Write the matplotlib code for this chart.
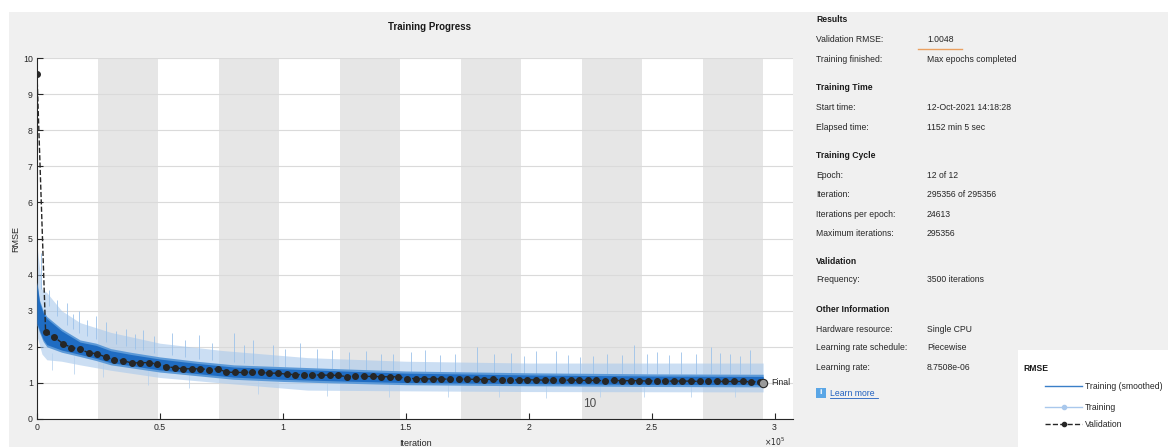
import numpy as np
import matplotlib.pyplot as plt
from matplotlib.patches import Rectangle
from matplotlib.lines import Line2D

plt.rcParams['font.family'] = ['Liberation Sans', 'DejaVu Sans']

W, H = 1168, 447

# training setup
epoch_len = 24613
n_epochs = 12
val_freq = 3500
max_iter = 295356
final_rmse = 1.0048

# validation RMSE every val_freq iterations
val_rmse = [9.55,
            2.41, 2.27, 2.09, 1.98, 1.94, 1.83, 1.81, 1.71, 1.64, 1.62,
            1.55, 1.56, 1.56, 1.52, 1.45, 1.42, 1.39, 1.39, 1.39, 1.37,
            1.39, 1.30, 1.29, 1.29, 1.30, 1.29, 1.27, 1.27, 1.24, 1.23,
            1.23, 1.22, 1.22, 1.21, 1.21, 1.17, 1.19, 1.18, 1.18, 1.17,
            1.17, 1.17,
            1.12, 1.12, 1.11, 1.11, 1.11, 1.10, 1.11, 1.10, 1.10, 1.09,
            1.10, 1.09, 1.09, 1.08, 1.09, 1.08, 1.08, 1.08, 1.07, 1.08,
            1.07, 1.07, 1.07, 1.06, 1.07, 1.06, 1.06, 1.06, 1.05, 1.06,
            1.05, 1.05, 1.05, 1.05, 1.04, 1.05, 1.04, 1.04, 1.04, 1.04,
            1.03, 1.03]

# smoothed training RMSE band (low / high)
smooth_iter = [0, 1000, 2500, 4000, 10000, 17500, 24000, 30000, 38000, 50000,
               65000, 80000, 100000, 120000, 150000, 200000, 250000, 295356]
smooth_lo = [2.6, 2.4, 2.15, 2.0, 1.85, 1.73, 1.62, 1.5, 1.42, 1.3,
             1.2, 1.1, 1.04, 1.0, 0.95, 0.92, 0.9, 0.89]
smooth_hi = [3.8, 3.3, 3.0, 2.84, 2.5, 2.19, 2.1, 1.95, 1.85, 1.72,
             1.6, 1.5, 1.45, 1.4, 1.33, 1.28, 1.25, 1.24]

# raw training RMSE band
raw_iter = [0, 2000, 4000, 10000, 17500, 30000, 50000, 75000, 110000,
            150000, 200000, 295356]
raw_lo = [2.3, 1.8, 1.64, 1.6, 1.5, 1.35, 1.15, 1.0, 0.8, 0.78, 0.76, 0.75]
raw_hi = [4.8, 3.6, 3.5, 3.0, 2.67, 2.4, 2.1, 1.9, 1.7, 1.6, 1.55, 1.55]

# tallest raw training spikes
spike_iter = [1500, 5000, 8000, 12000, 14500, 17000, 20500, 24000, 28000, 32000,
              36000, 40000, 43000, 47500, 55000, 60000, 66000, 71000, 80000,
              84000, 88000, 96000, 101000, 107000, 114000, 120000, 127000,
              134000, 140000, 145000, 152000, 158000, 164000, 170000, 179000,
              186000, 193000, 198000, 203000, 211000, 216000, 221000, 226000,
              232000, 238000, 243000, 248000, 252000, 257000, 262000, 268000,
              274000, 278000, 282000, 286000, 290000]
spike_top = [4.6, 3.58, 3.3, 3.2, 2.9, 3.0, 2.75, 2.84, 2.7, 2.45,
             2.5, 2.35, 2.47, 2.3, 2.39, 2.2, 2.32, 2.1, 2.39,
             2.05, 2.2, 2.05, 1.95, 2.1, 1.95, 1.9, 1.85,
             1.87, 1.8, 1.8, 1.85, 1.92, 1.78, 1.8, 2.0,
             1.8, 1.83, 1.75, 1.88, 1.88, 1.78, 1.73, 1.75,
             1.8, 1.78, 2.05, 1.8, 1.85, 1.76, 1.85, 1.8,
             2.0, 1.82, 1.8, 1.75, 1.92]

# deepest raw training dips
dip_iter = [6000, 15000, 27000, 45000, 62000, 90000, 118000, 143000, 167000,
            188000, 207000, 229000, 247000, 266000, 284000]
dip_bottom = [1.35, 1.25, 1.15, 0.95, 0.85, 0.7, 0.65, 0.62, 0.6, 0.62,
              0.58, 0.6, 0.6, 0.62, 0.6]

xtick_pos = [0, 50000, 100000, 150000, 200000, 250000, 300000]
xtick_labels = ['0', '0.5', '1', '1.5', '2', '2.5', '3']
ytick_pos = list(range(0, 11))

info_rows = [
    ('Results', None, 20),
    ('Validation RMSE:', '1.0048', 40),
    ('Training finished:', 'Max epochs completed', 59),
    ('Training Time', None, 87),
    ('Start time:', '12-Oct-2021 14:18:28', 107),
    ('Elapsed time:', '1152 min 5 sec', 127),
    ('Training Cycle', None, 155),
    ('Epoch:', '12 of 12', 175),
    ('Iteration:', '295356 of 295356', 195),
    ('Iterations per epoch:', '24613', 215),
    ('Maximum iterations:', '295356', 233),
    ('Validation', None, 261),
    ('Frequency:', '3500 iterations', 280),
    ('Other Information', None, 309),
    ('Hardware resource:', 'Single CPU', 329),
    ('Learning rate schedule:', 'Piecewise', 348),
    ('Learning rate:', '8.7508e-06', 367),
]


def fx(x):
    return x / W


def fy(y):
    return 1 - y / H


fig = plt.figure(figsize=(W / 100, H / 100), dpi=100)
fig.patch.set_facecolor('#f0f0f0')
# white margins on top and left
fig.add_artist(Rectangle((0, fy(12)), 1, 12 / H, transform=fig.transFigure,
                         facecolor='white', edgecolor='none', zorder=0))
fig.add_artist(Rectangle((0, 0), fx(9), 1, transform=fig.transFigure,
                         facecolor='white', edgecolor='none', zorder=0))

ax = fig.add_axes([fx(37), fy(419), fx(793 - 37), (419 - 58) / H])
ax.set_facecolor('white')
ax.set_xlim(0, 307500)
ax.set_ylim(0, 10)

# alternating epoch shading
for e in range(1, n_epochs, 2):
    ax.axvspan(e * epoch_len, (e + 1) * epoch_len, color='#e6e6e6', lw=0, zorder=0)

ax.set_axisbelow(True)
ax.yaxis.grid(True, color='#dadada', lw=0.8)

# raw training
ax.fill_between(raw_iter, raw_lo, raw_hi, color='#a9c9ec', alpha=0.6, lw=0, zorder=2)
ax.vlines(spike_iter, np.interp(spike_iter, raw_iter, raw_hi) - 0.3, spike_top,
          color='#9cc2ea', lw=0.7, alpha=0.85, zorder=2)
ax.vlines(dip_iter, dip_bottom, np.interp(dip_iter, raw_iter, raw_lo) + 0.2,
          color='#b4d0ee', lw=0.6, alpha=0.85, zorder=2)

# smoothed training
ax.fill_between(smooth_iter, smooth_lo, smooth_hi, color='#5d9ad8', lw=0, zorder=3)
ax.fill_between(smooth_iter, np.array(smooth_lo) + 0.06, np.array(smooth_hi) - 0.06,
                color='#1f6cc2', lw=0, zorder=3)

# validation
val_iter = np.arange(len(val_rmse)) * val_freq
ax.plot(val_iter, val_rmse, color='#262626', ls='--', lw=1.0, marker='o',
        markersize=4, zorder=4)
ax.plot([max_iter], [final_rmse], marker='o', markersize=6, color='#9a9a9a',
        markeredgecolor='#262626', markeredgewidth=0.8, zorder=5)
ax.text(max_iter + 3500, final_rmse, 'Final', fontsize=6.3, color='#262626',
        va='center', ha='left', zorder=5)
ax.text(224800, 0.42, '10', fontsize=8.5, color='#4d4d4d', ha='center', va='center')

for s in ['top', 'right']:
    ax.spines[s].set_visible(False)
for s in ['left', 'bottom']:
    ax.spines[s].set_color('#262626')
    ax.spines[s].set_linewidth(0.8)

ax.set_xticks(xtick_pos)
ax.set_xticklabels(xtick_labels)
ax.set_yticks(ytick_pos)
ax.tick_params(direction='in', length=4, width=0.8, colors='#262626',
               labelsize=6.3, pad=3)
ax.set_xlabel('Iteration', fontsize=6.5, color='#262626', labelpad=5)
ax.set_ylabel('RMSE', fontsize=6.5, color='#262626', labelpad=2)
fig.text(fx(775), fy(442), r'$\times10^5$', fontsize=5.5, color='#262626',
         ha='center', va='center')

fig.text(fx(430), fy(27), 'Training Progress', fontsize=7, fontweight='bold',
         color='#1a1a1a', ha='center', va='center')

# info panel
for label, value, y in info_rows:
    if value is None:
        fig.text(fx(816), fy(y), label, fontsize=6.2, fontweight='bold',
                 color='#1a1a1a', va='center')
    else:
        fig.text(fx(816), fy(y), label, fontsize=6.2, color='#262626', va='center')
        fig.text(fx(927), fy(y), value, fontsize=6.2, color='#262626', va='center')

fig.add_artist(Line2D([fx(918), fx(962)], [fy(49), fy(49)], color='#eaa060', lw=1.0))

fig.add_artist(Rectangle((fx(816), fy(398)), 10 / W, 10 / H, transform=fig.transFigure,
                         facecolor='#5aa6e6', edgecolor='none'))
fig.text(fx(821), fy(393), 'i', fontsize=6, fontweight='bold', color='white',
         ha='center', va='center')
fig.text(fx(830), fy(393), 'Learn more', fontsize=6.2, color='#1f5fbf', va='center')
fig.add_artist(Line2D([fx(830), fx(878)], [fy(398), fy(398)], color='#1f5fbf', lw=0.6))

# legend box
lg = fig.add_axes([fx(1018), 0, 150 / W, 97 / H])
lg.set_facecolor('white')
lg.set_xlim(1018, 1168)
lg.set_ylim(447, 350)
lg.set_xticks([])
lg.set_yticks([])
for s in lg.spines.values():
    s.set_visible(False)
lg.text(1023, 368, 'RMSE', fontsize=6.2, fontweight='bold', color='#1a1a1a', va='center')
lg.plot([1045, 1082], [386, 386], color='#3a7fc8', lw=1.0)
lg.plot([1045, 1082], [407, 407], color='#a9c8ec', lw=1.0)
lg.plot([1063.5], [407], marker='o', markersize=3, color='#a9c8ec')
lg.plot([1045, 1082], [424, 424], color='#262626', lw=1.0, ls='--')
lg.plot([1063.5], [424], marker='o', markersize=3, color='#262626')
for y, t in [(386, 'Training (smoothed)'), (407, 'Training'), (424, 'Validation')]:
    lg.text(1085, y, t, fontsize=6.2, color='#262626', va='center')

fig.savefig('out.png', dpi=100, facecolor=fig.get_facecolor())
